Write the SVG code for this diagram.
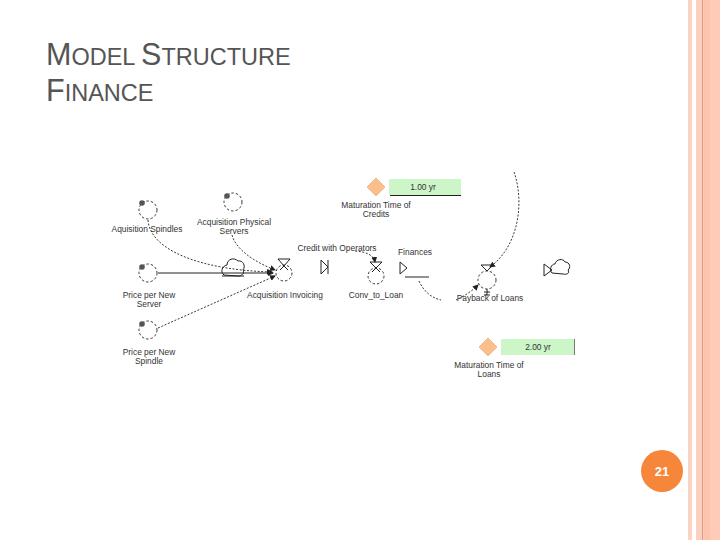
<svg xmlns="http://www.w3.org/2000/svg" width="720" height="540" viewBox="0 0 720 540">
<defs>
<marker id="ah" markerWidth="6" markerHeight="6" refX="5" refY="3" orient="auto" markerUnits="userSpaceOnUse">
<path d="M0,0 L6,3 L0,6 Z" fill="#222"/>
</marker>
<style>
.t{font-family:"Liberation Sans",Arial,sans-serif;font-size:8.4px;fill:#333;text-anchor:middle}
.aux{fill:none;stroke:#222;stroke-width:0.9;stroke-dasharray:2.5 2}
.dot{fill:#555}
.dash{fill:none;stroke:#222;stroke-width:0.9;stroke-dasharray:2 1.6}
.sol{fill:none;stroke:#222;stroke-width:1}
.valve{fill:none;stroke:#222;stroke-width:1}
.dia{fill:#F9C08E;stroke:#E8A060;stroke-width:0.6}
.box{fill:#CCF5C8;stroke:none}
.title{font-family:"Liberation Sans",Arial,sans-serif;fill:#555}
</style>
</defs>
<rect width="720" height="540" fill="#fff"/>
<!-- right border stripes -->
<rect x="688" y="0" width="4" height="540" fill="#FAD3C4"/>
<rect x="696" y="0" width="6" height="540" fill="#FAD0C0"/>
<rect x="702" y="0" width="1.2" height="540" fill="#E49A7A"/>
<rect x="703.2" y="0" width="7" height="540" fill="#FCC4AE"/>
<rect x="710" y="0" width="10" height="540" fill="#FECBB8"/>
<!-- title -->
<text class="title" x="46" y="65" font-size="30.5">M<tspan font-size="23.5">ODEL </tspan>S<tspan font-size="23.5">TRUCTURE</tspan></text>
<text class="title" x="46" y="101" font-size="30.5">F<tspan font-size="23.5">INANCE</tspan></text>
<!-- connectors -->
<g id="connectors">
<path class="dash" d="M148,220 C150,250 200,270 272,272" marker-end="url(#ah)"/>
<path class="dash" d="M232,235 C236,250 255,262 275,270" marker-end="url(#ah)"/>
<path class="sol" d="M158,273 L273,273" marker-end="url(#ah)"/>
<path class="dash" d="M158,328 L275,276" marker-end="url(#ah)"/>
<path class="dash" d="M355,251 C368,252 374,256 375,262" marker-end="url(#ah)"/>
<path class="dash" d="M419,281 C424,292 432,298 441,300"/>
<path class="dash" d="M514,172 C524,200 520,245 490,267" marker-end="url(#ah)"/>
<path class="dash" d="M456,300 C462,297 470,293 478,285" marker-end="url(#ah)"/>
</g>
<!-- clouds -->
<g id="cloud-left">
<path class="sol" d="M224,275 C220,272 222,266 227,265 C227,259 234,257 238,261 C243,260 246,266 243,270 C245,273 242,276 238,276 Z"/>
<path class="sol" d="M222,276 L244,276"/>
</g>
<g id="cloud-right">
<path class="sol" d="M552,273 C549,270 551,264 555,264 C556,259 563,258 565,262 C570,262 571,268 568,270 C570,273 567,275 563,274 Z"/>
<path class="sol" d="M544,264 L544,276 L552,270 Z"/>
</g>
<!-- nodes -->
<g id="aquisition-spindles">
<circle class="aux" cx="148" cy="210" r="9"/>
<circle class="dot" cx="142" cy="203" r="2.8"/>
<text class="t" x="147" y="232">Aquisition Spindles</text>
</g>
<g id="acquisition-physical-servers">
<circle class="aux" cx="233" cy="202" r="9"/>
<circle class="dot" cx="227" cy="196" r="2.8"/>
<text class="t" x="234" y="225">Acquisition Physical</text>
<text class="t" x="234" y="234">Servers</text>
</g>
<g id="price-per-new-server">
<circle class="aux" cx="148" cy="273" r="9"/>
<circle class="dot" cx="142" cy="267" r="2.8"/>
<text class="t" x="149" y="298">Price per New</text>
<text class="t" x="149" y="307">Server</text>
</g>
<g id="price-per-new-spindle">
<circle class="aux" cx="148" cy="330" r="9"/>
<circle class="dot" cx="142" cy="324" r="2.8"/>
<text class="t" x="149" y="355">Price per New</text>
<text class="t" x="149" y="364">Spindle</text>
</g>
<g id="acquisition-invoicing">
<circle class="aux" cx="284" cy="273" r="8"/>
<path class="valve" d="M278,259 L290,259 L284,266 Z M284,266 L280,270 M284,266 L288,270"/>
<text class="t" x="285" y="298">Acquisition Invoicing</text>
</g>
<g id="ghost-credit">
<path class="sol" d="M321,260 L321,274 L328,267 Z M328,260 L328,274"/>
</g>
<g id="credit-with-operators">
<text class="t" x="337" y="251">Credit with Operators</text>
</g>
<g id="conv-to-loan">
<circle class="aux" cx="376" cy="276" r="8"/>
<path class="valve" d="M370,262 L382,262 L376,268 Z M376,268 L372,272 M376,268 L380,272"/>
<text class="t" x="376" y="298">Conv_to_Loan</text>
</g>
<g id="finances">
<text class="t" x="415" y="255">Finances</text>
<path class="sol" d="M400,262 L400,274 L407,268 Z"/>
<path class="sol" d="M405,277 L429,277"/>
</g>
<g id="payback-of-loans">
<circle class="aux" cx="487" cy="280" r="9"/>
<path class="valve" d="M481,265 L493,265 L487,271 Z"/>
<path class="sol" d="M484,292 L490,292 M487,289 L487,295 M484,295 L490,295"/>
<text class="t" x="490" y="301">Payback of Loans</text>
</g>
<g id="maturation-time-of-credits">
<path class="dia" d="M376,178 L385,187 L376,196 L367,187 Z"/>
<rect class="box" x="389" y="179" width="72" height="16"/>
<path class="sol" d="M390,195.5 L461,195.5"/>
<text class="t" x="423" y="190" font-size="7">1.00 yr</text>
<text class="t" x="376" y="208">Maturation Time of</text>
<text class="t" x="376" y="217">Credits</text>
</g>
<g id="maturation-time-of-loans">
<path class="dia" d="M488,338 L497,347 L488,356 L479,347 Z"/>
<rect class="box" x="501" y="339" width="74" height="16"/>
<path d="M574.5,339 L574.5,355" stroke="#777" stroke-width="1"/>
<text class="t" x="538" y="350" font-size="7">2.00 yr</text>
<text class="t" x="489" y="368">Maturation Time of</text>
<text class="t" x="489" y="377">Loans</text>
</g>
<g id="page-number">
<circle cx="662" cy="471" r="21" fill="#F5863A"/>
<text x="662" y="476" font-family="Liberation Sans,Arial,sans-serif" font-size="13" font-weight="bold" fill="#fff" text-anchor="middle">21</text>
</g>
</svg>
